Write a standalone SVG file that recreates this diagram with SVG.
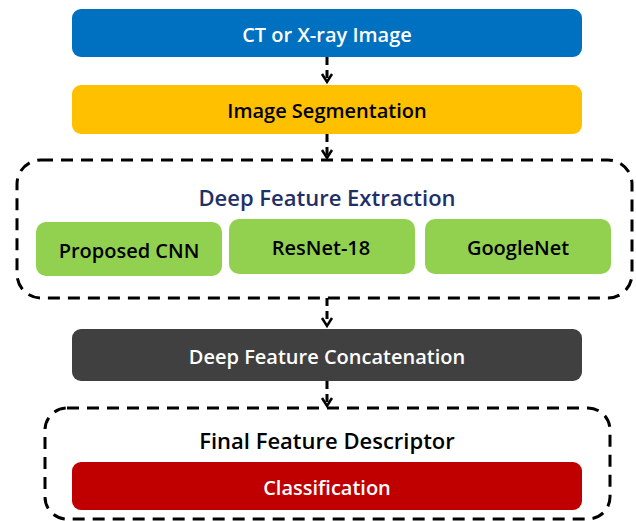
<svg xmlns="http://www.w3.org/2000/svg" width="636" height="521" viewBox="0 0 636 521">
<defs>
<style>
text{font-family:"Open Sans","Liberation Sans",sans-serif;font-weight:600;text-anchor:middle;dominant-baseline:central}
.box{stroke:none}
.group{fill:none;stroke:#000;stroke-width:3;stroke-dasharray:12 8}
.conn{fill:none;stroke:#000;stroke-width:3;stroke-dasharray:8 5}
.head{fill:none;stroke:#000;stroke-width:2.5;stroke-linejoin:miter}
.w{fill:#fff}
.k{fill:#000}
</style>
</defs>
<rect width="636" height="521" fill="#fff"/>
<g id="ct-image">
<rect class="box" x="72" y="9" width="510" height="48" rx="9" fill="#0070C0"/>
<text class="w" x="327" y="34" font-size="20">CT or X-ray Image</text>
</g>
<g id="segmentation">
<rect class="box" x="72" y="85" width="510" height="49" rx="9" fill="#FFC000"/>
<text class="k" x="327" y="110" font-size="20">Image Segmentation</text>
</g>
<g id="deep-feature-extraction">
<rect class="group" x="17" y="160" width="615" height="138" rx="24"/>
<text x="327" y="197" font-size="22" fill="#1F3068">Deep Feature Extraction</text>
</g>
<g id="proposed-cnn">
<rect class="box" x="36" y="222" width="186" height="54" rx="10" fill="#92D050"/>
<text class="k" x="129" y="250" font-size="20">Proposed CNN</text>
</g>
<g id="resnet18">
<rect class="box" x="229" y="219" width="186" height="55" rx="10" fill="#92D050"/>
<text class="k" x="321" y="247" font-size="20">ResNet-18</text>
</g>
<g id="googlenet">
<rect class="box" x="425" y="219" width="186" height="55" rx="10" fill="#92D050"/>
<text class="k" x="518" y="247" font-size="20">GoogleNet</text>
</g>
<g id="concatenation">
<rect class="box" x="72" y="329" width="510" height="52" rx="9" fill="#404040"/>
<text class="w" x="327" y="356" font-size="20">Deep Feature Concatenation</text>
</g>
<g id="final-feature-descriptor">
<rect class="group" x="45" y="408" width="565" height="111" rx="22"/>
<text class="k" x="327" y="440" font-size="22">Final Feature Descriptor</text>
</g>
<g id="classification">
<rect class="box" x="72" y="462" width="510" height="48" rx="9" fill="#C00000"/>
<text class="w" x="327" y="487" font-size="20">Classification</text>
</g>
<g id="connectors">
<path class="conn" d="M327 57V80"/>
<path class="head" d="M322 74L327 82L332 74"/>
<path class="conn" d="M327 134V156"/>
<path class="head" d="M322 150L327 158L332 150"/>
<path class="conn" d="M327 298V323"/>
<path class="head" d="M322 318L327 326L332 318"/>
<path class="conn" d="M327 381V402"/>
<path class="head" d="M322 398L327 406L332 398"/>
</g>
</svg>
